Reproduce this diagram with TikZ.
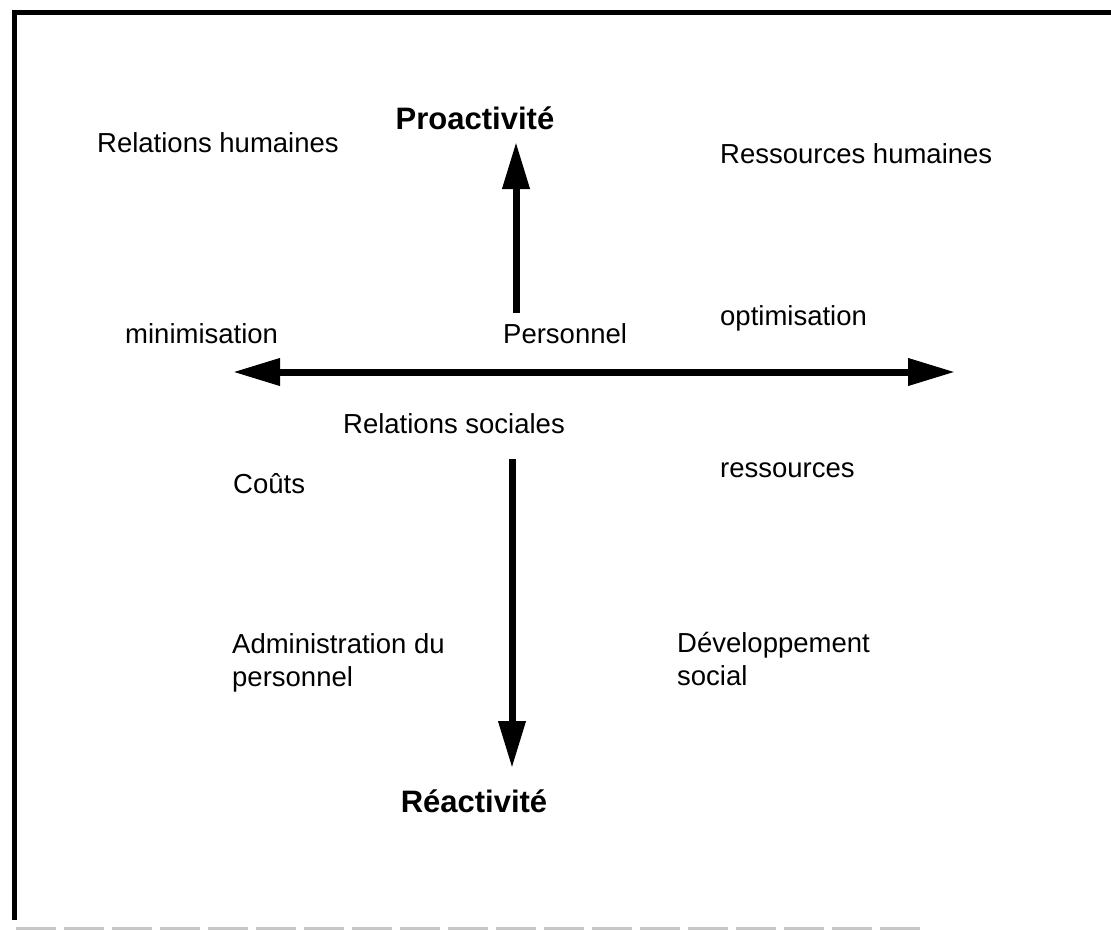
\documentclass[tikz,border=0pt]{standalone}
\usepackage{fontspec}
\setmainfont{Liberation Sans}
\usetikzlibrary{arrows.meta}
\begin{document}
\begin{tikzpicture}[x=1pt,y=-1pt,
  lbl/.style={inner sep=0pt, anchor=base west, font=\fontsize{27.5}{33}\selectfont, align=left},
  pole/.style={inner sep=0pt, anchor=base, font=\fontsize{31}{34}\selectfont\bfseries},
  axis/.style={line width=7pt, -{Triangle[length=47pt,width=26pt]}},
  axis2/.style={line width=7pt, {Triangle[length=47pt,width=26pt]}-{Triangle[length=47pt,width=26pt]}}]
\useasboundingbox (0,0) rectangle (1111,930);
% frame
\draw[line width=5pt] (14,920) -- (14,12) -- (1111,12);
\draw[gray!45, line width=3pt, dash pattern=on 40pt off 8pt] (16,928) -- (920,928);

% poles
\node[pole] (pro) at (475,129) {Proactivité};
\node[pole] (rea) at (474,812) {Réactivité};

% labels (base anchor = baseline of the last line)
\node[lbl] (rh) at (97,152) {Relations humaines};
\node[lbl] (res) at (720,163) {Ressources humaines};
\node[lbl] (mini) at (125,343) {minimisation};
\node[lbl] (pers) at (503,343) {Personnel};
\node[lbl] (opti) at (720,325) {optimisation};
\node[lbl] (rs) at (343,433) {Relations sociales};
\node[lbl] (couts) at (233,493) {Coûts};
\node[lbl] (ress) at (720,477) {ressources};
\node[lbl] (adm) at (232,686) {Administration du\\personnel};
\node[lbl] (dev) at (677,685) {Développement\\social};

% axes
\coordinate (upS) at (516,313);
\coordinate (upE) at (516,142);
\coordinate (hL) at (233,372);
\coordinate (hR) at (955,372);
\coordinate (dnS) at (512,459);
\coordinate (dnE) at (512,768);
\draw[axis] (upS) -- (upE);
\draw[axis2] (hL) -- (hR);
\draw[axis] (dnS) -- (dnE);
\end{tikzpicture}
\end{document}
